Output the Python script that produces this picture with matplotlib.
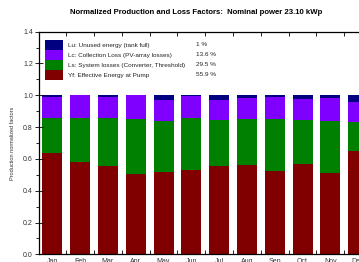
import matplotlib
matplotlib.use("Agg")
import matplotlib.pyplot as plt
from matplotlib.patches import Rectangle
from matplotlib.ticker import MultipleLocator, FixedLocator, NullFormatter

plt.rcParams['font.family'] = ['Liberation Sans', 'DejaVu Sans']

months = ["Jan", "Feb", "Mar", "Apr", "May", "Jun", "Jul", "Aug", "Sep", "Oct", "Nov", "Dec"]
yf = [0.637, 0.579, 0.558, 0.505, 0.518, 0.532, 0.553, 0.564, 0.522, 0.568, 0.512, 0.648]
ls = [0.223, 0.281, 0.297, 0.346, 0.318, 0.325, 0.294, 0.289, 0.331, 0.275, 0.327, 0.186]
lu = [0.010, 0.000, 0.008, 0.000, 0.027, 0.005, 0.031, 0.016, 0.010, 0.023, 0.019, 0.042]
lc = [1.0 - a - b - c for a, b, c in zip(yf, ls, lu)]

legend_labels = ["Lu: Unused energy (tank full)",
                 "Lc: Collection Loss (PV-array losses)",
                 "Ls: System losses (Converter, Threshold)",
                 "Yf: Effective Energy at Pump"]
legend_values = ["1 %", "13.6 %", "29.5 %", "55.9 %"]
colors = ["#000080", "#8000ff", "#008000", "#800000"]

fig = plt.figure(figsize=(3.59, 2.62), dpi=100)
W, H = 359, 262
ax = fig.add_axes([38.5 / W, 1 - 254.3 / H, (372 - 38.5) / W, (254.3 - 31.7) / H])

x = [i + 0.5 for i in range(len(months))]
w = 0.72
b1 = yf
b2 = [a + b for a, b in zip(yf, ls)]
b3 = [a + b for a, b in zip(b2, lc)]
ax.bar(x, yf, width=w, color=colors[3], linewidth=0)
ax.bar(x, ls, width=w, bottom=b1, color=colors[2], linewidth=0)
ax.bar(x, lc, width=w, bottom=b2, color=colors[1], linewidth=0)
ax.bar(x, lu, width=w, bottom=b3, color=colors[0], linewidth=0)

ax.set_xlim(0, 12)
ax.set_ylim(0, 1.4)
ax.set_xticks(x)
ax.set_xticklabels(months, fontsize=5, color="#333333")
ax.tick_params(axis='x', length=0, pad=3)
ax.xaxis.set_minor_locator(FixedLocator(list(range(1, 12))))
ax.tick_params(axis='x', which='minor', direction='in', length=3, top=True, bottom=True, width=0.6)

ax.yaxis.set_major_locator(MultipleLocator(0.2))
ax.yaxis.set_minor_locator(MultipleLocator(0.1))
ax.yaxis.set_major_formatter(matplotlib.ticker.FormatStrFormatter('%.1f'))
ax.tick_params(axis='y', which='major', direction='inout', length=6, width=0.6, labelsize=5, labelcolor="#333333", pad=1)
ax.tick_params(axis='y', which='minor', direction='out', length=2.5, width=0.6)
ax.set_ylabel("Production normalized factors", fontsize=4, color="#333333", labelpad=6)

for s in ax.spines.values():
    s.set_linewidth(0.9)

fig.text(196 / W, 1 - 12.5 / H, "Normalized Production and Loss Factors:  Nominal power 23.10 kWp",
         ha='center', va='center', fontsize=5.6, fontweight='bold')

# legend box drawn manually
tr = fig.transFigure
row_h = 10.0
top = 40.0
for i, (lab, val, c) in enumerate(zip(legend_labels, legend_values, colors)):
    y0 = top + i * row_h
    fig.patches.append(Rectangle((45 / W, 1 - (y0 + row_h) / H), 18 / W, row_h / H,
                                 transform=tr, facecolor=c, edgecolor='none'))
    fig.text(68 / W, 1 - (y0 + row_h / 2) / H, lab, fontsize=4.6, va='center', ha='left', color="#222222")
    fig.text(196 / W, 1 - (y0 + row_h / 2) / H, val, fontsize=4.6, va='center', ha='left', color="#222222")

fig.savefig("out.png", dpi=100)
